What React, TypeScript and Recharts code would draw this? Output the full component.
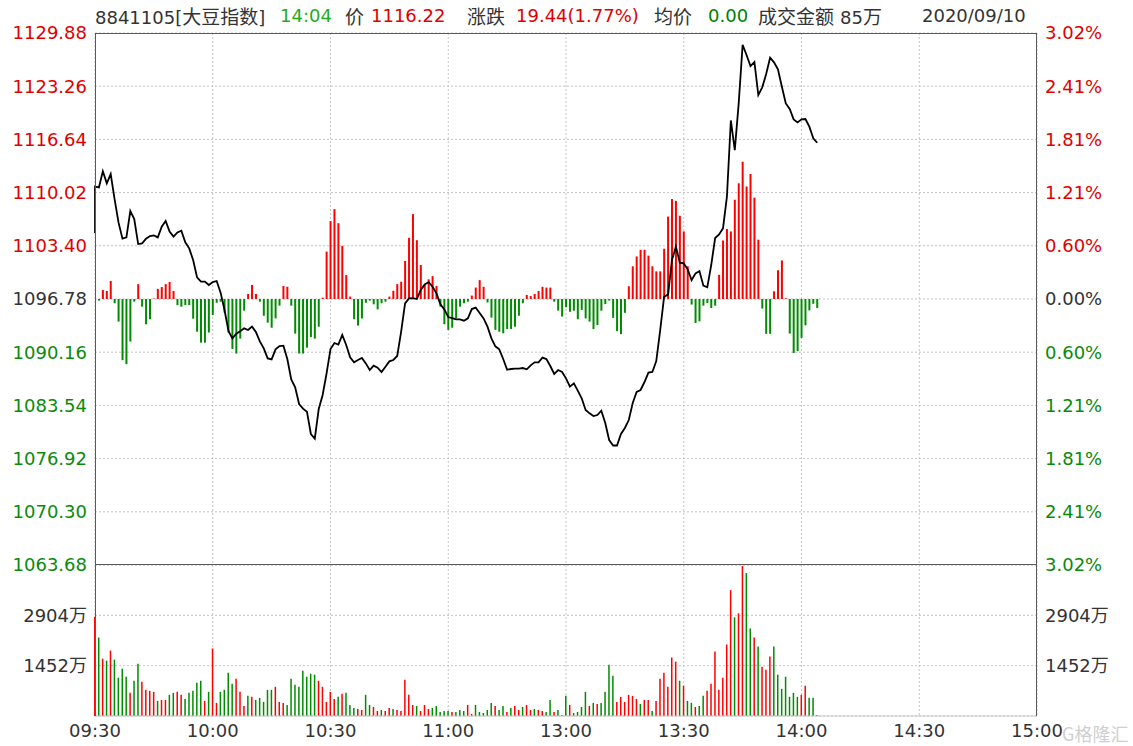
import { Bar, CartesianGrid, Cell, ComposedChart, Line, XAxis, YAxis } from "recharts";

const prevClose = 1096.78;
const openPrice = 1105.0;

const timeTicks = [0, 30, 60, 90, 120, 150, 180, 210, 240];
const timeLabels = ["09:30", "10:00", "10:30", "11:00", "13:00", "13:30", "14:00", "14:30", "15:00"];

const priceTicks = [
  1129.88, 1123.26, 1116.64, 1110.02, 1103.4, 1096.78, 1090.16, 1083.54, 1076.92, 1070.3, 1063.68,
];
const volTicks = [1452, 2904];
const volMax = 4356;

// one value per minute, from 09:30
const prices = [
  1110.76, 1110.67, 1112.67, 1111.17, 1112.33, 1109.18, 1106.28, 1104.29, 1104.45, 1107.73,
  1106.73, 1103.62, 1103.71, 1104.29, 1104.62, 1104.7, 1104.45, 1105.78, 1106.49, 1105.16,
  1104.54, 1105.07, 1105.28, 1103.83, 1103.08, 1101.63, 1099.48, 1098.94, 1098.94, 1098.52,
  1098.89, 1099.02, 1097.57, 1095.41, 1092.8, 1091.88, 1092.47, 1092.76, 1093.13, 1092.92,
  1093.34, 1092.67, 1091.51, 1090.64, 1089.39, 1089.27, 1090.52, 1090.93, 1090.97, 1089.31,
  1086.78, 1085.79, 1083.71, 1083.13, 1082.76, 1079.98, 1079.4, 1083.09, 1084.83, 1087.53,
  1090.56, 1091.3, 1091.1, 1092.3, 1091.06, 1089.52, 1088.9, 1089.19, 1089.44, 1088.77,
  1087.94, 1088.48, 1088.23, 1087.69, 1088.36, 1089.02, 1089.19, 1089.69, 1092.71, 1096.24,
  1096.86, 1096.9, 1096.78, 1097.9, 1098.6, 1098.89, 1098.31, 1097.48, 1096.11, 1095.49,
  1094.54, 1094.41, 1094.25, 1094.25, 1094.08, 1094.37, 1095.53, 1095.7, 1095.04, 1094.37,
  1093.34, 1091.88, 1090.89, 1090.52, 1089.31, 1087.98, 1088.07, 1088.11, 1088.11, 1088.19,
  1088.03, 1088.52, 1088.9, 1088.9, 1089.48, 1089.31, 1088.44, 1087.45, 1087.94, 1087.69,
  1086.91, 1085.87, 1086.28, 1085.37, 1084.42, 1082.97, 1082.55, 1082.22, 1082.34, 1082.88,
  1081.35, 1079.23, 1078.55, 1078.55, 1079.98, 1080.73, 1081.72, 1083.84, 1085.21, 1085.46,
  1086.45, 1087.63, 1087.7, 1089.06, 1092.92, 1097.07, 1097.32, 1101.63, 1103.29, 1101.3,
  1101.21, 1100.47, 1099.14, 1099.97, 1100.26, 1098.44, 1098.23, 1101.01, 1104.37, 1104.82,
  1105.57, 1109.51, 1119.0, 1115.3, 1121.12, 1128.4, 1127.14, 1125.77, 1126.27, 1122.16,
  1123.12, 1124.77, 1126.81, 1126.23, 1125.36, 1123.2, 1121.12, 1120.42, 1119.13, 1118.76,
  1119.13, 1119.17, 1118.22, 1116.77, 1116.22,
];

// red / green bars around the zero line
const flow = [
  0, -0.6, 3.4, 3.0, 6.8, -1.6, -8.5, -23, -24.5, -16,
  -1, 5.6, -2.9, -9.5, -7.6, 0.2, 3.8, 4.5, 5.6, 6.4,
  3, -2.3, -2.9, -2.3, -2.3, -7.4, -12.3, -16.4, -16.4, -12.6,
  -6, -1.4, -1, -5.1, -12.6, -18.8, -20.5, -14.9, -4.4, 1.9,
  5.3, 1.9, -1, -6.3, -8.9, -10.8, -7.3, -2.5, 4.9, 4.6,
  -2.5, -13, -20.5, -20.5, -18.3, -14.3, -14.9, -10.4, 0.5, 17.8,
  29.3, 33.8, 28.5, 20, 9, 0.9, -7.6, -10, -7.3, -1.4,
  -0.6, -2, -3.9, -1.6, -1, 0.9, 3.1, 5.6, 6.5, 14.3,
  23, 31.9, 22.1, 12.8, 5.3, 7.4, 8.6, 4.9, -2.9, -9.5,
  -11.6, -10.8, -7.3, -2.9, -1.6, -1, 1.3, 4.3, 7.1, 4.6,
  -1.3, -7, -11.6, -12.3, -12.9, -11.3, -11.3, -10.4, -6.3, -1.6,
  1.5, 1.1, 1.9, 3, 4.6, 4.3, 4.3, -1, -4.4, -6.6,
  -3.1, -4.8, -4.4, -7.6, -4.1, -7.3, -8.5, -11.3, -9.8, -4.4,
  -1.9, -0.6, -7.1, -12.1, -13.2, -5.2, 4.8, 12.3, 16, 18.5,
  18.5, 16.3, 12.3, 10.4, 10.4, 18.9, 31, 37.6, 36.9, 31.3,
  25.4, 12.3, -2.1, -9, -8.4, -2.5, -1.5, -3.4, -2.5, 9.1,
  22, 26.3, 25.4, 37.3, 43.5, 51.6, 42.3, 47, 38.1, 22.3,
  -3.6, -13.1, -13.1, 2.9, 10.8, 14.5, 0.3, -13, -20.3, -19.6,
  -14.6, -9.9, -4.3, -1.8, -3.4,
];

// turnover per minute, 万
const volumes = [
  2865, 2265, 1655, 1597, 1888, 1626, 1104, 1365, 1133, 668,
  1016, 1510, 987, 755, 726, 697, 436, 465, 465, 610,
  668, 697, 610, 494, 668, 726, 958, 1016, 436, 697,
  1946, 378, 697, 755, 1249, 929, 1074, 697, 290, 581,
  552, 465, 523, 407, 755, 755, 842, 407, 378, 319,
  1074, 900, 842, 1307, 1133, 1220, 1191, 1016, 842, 407,
  697, 494, 552, 639, 668, 319, 232, 203, 174, 610,
  319, 261, 145, 174, 145, 232, 203, 174, 145, 1045,
  610, 319, 290, 145, 319, 203, 232, 290, 116, 145,
  145, 116, 116, 174, 145, 319, 58, 319, 116, 87,
  174, 378, 290, 174, 290, 116, 232, 290, 174, 261,
  319, 174, 203, 174, 145, 116, 465, 116, 174, 29,
  581, 319, 87, 116, 261, 697, 290, 378, 348, 378,
  697, 1481, 1162, 407, 552, 407, 610, 581, 494, 348,
  465, 465, 145, 436, 1074, 1249, 842, 1684, 1568, 1016,
  871, 436, 378, 261, 290, 581, 726, 929, 1859, 755,
  1104, 2062, 3630, 2846, 2962, 4330, 4124, 2526, 2265, 2004,
  1423, 1336, 1713, 2004, 1191, 784, 1133, 552, 668, 552,
  610, 871, 523, 523, 29,
];

// 1 = up minute, 0 = down minute
const volUp = [
  1, 0, 1, 0, 1, 0, 0, 0, 0, 1,
  0, 0, 1, 1, 1, 1, 0, 1, 1, 0,
  0, 1, 1, 0, 0, 0, 0, 0, 1, 0,
  1, 1, 0, 0, 0, 0, 1, 1, 1, 0,
  1, 0, 0, 0, 0, 0, 1, 1, 1, 0,
  0, 0, 0, 0, 0, 0, 0, 1, 1, 1,
  1, 1, 0, 1, 0, 0, 0, 1, 1, 0,
  0, 1, 1, 0, 1, 1, 0, 1, 1, 1,
  1, 1, 0, 1, 1, 1, 0, 0, 0, 0,
  0, 1, 0, 0, 0, 1, 1, 0, 0, 0,
  0, 0, 1, 0, 0, 1, 0, 1, 1, 0,
  1, 1, 0, 1, 1, 0, 0, 1, 0, 0,
  0, 1, 0, 0, 0, 0, 1, 0, 1, 0,
  0, 0, 0, 1, 1, 1, 1, 1, 1, 0,
  1, 1, 0, 1, 1, 1, 1, 1, 1, 0,
  1, 0, 0, 1, 0, 0, 1, 1, 1, 1,
  1, 1, 1, 0, 1, 1, 0, 0, 1, 0,
  1, 1, 1, 0, 0, 0, 0, 0, 0, 0,
  1, 1, 0, 0, 0,
];

const RED = "#ff0000";
const GREEN = "#008c00";
const RED_TXT = "#e00000";
const GREEN_TXT = "#0a8a0a";
const DARK = "#333333";
const FONT = "'DejaVu Sans', 'Noto Sans CJK SC', sans-serif";
const CJK = "'Noto Sans CJK SC', sans-serif";

const W = 1133;
const LEFT = 95;
const RIGHT = 96;

const priceRows = [
  { t: 0, price: openPrice },
  ...prices.map((p, i) => ({ t: i, price: p, flow: flow[i] })),
];
const volRows = volumes.map((v, i) => ({ t: i, vol: v, up: volUp[i] }));

const priceColor = (v: number) =>
  v > prevClose + 0.001 ? RED_TXT : v < prevClose - 0.001 ? GREEN_TXT : DARK;

const PriceTick = (props: any) => {
  const { x, y, payload, textAnchor, pct } = props;
  const v = payload.value;
  const label = pct
    ? ((Math.abs(v - prevClose) / prevClose) * 100).toFixed(2) + "%"
    : v.toFixed(2);
  return (
    <text x={x} y={y} dy="0.36em" textAnchor={textAnchor} fill={priceColor(v)} fontSize={18} fontFamily={FONT}>
      {label}
    </text>
  );
};

const gridStyle = { stroke: "#c4c4c4", strokeDasharray: "2 2" };
const volTick = { fill: DARK, fontSize: 18, fontFamily: FONT };

const App = () => {
  return (
    <div style={{ position: "absolute", left: 0, top: 0, width: W, height: 746, background: "#fff", overflow: "hidden", fontFamily: FONT }}>
      {/* header */}
      <div style={{ position: "absolute", left: 0, top: 4, height: 24, fontSize: 18, whiteSpace: "nowrap", lineHeight: "24px" }}>
        <span style={{ position: "absolute", left: 95, color: DARK }}>8841105[<span style={{ fontFamily: CJK, fontSize: 19 }}>大豆指数</span>]</span>
        <span style={{ position: "absolute", left: 280, color: "#1faa1f" }}>14:04</span>
        <span style={{ position: "absolute", left: 345, color: DARK, fontFamily: CJK, fontSize: 19 }}>价</span>
        <span style={{ position: "absolute", left: 371, color: RED_TXT }}>1116.22</span>
        <span style={{ position: "absolute", left: 467, color: DARK, fontFamily: CJK, fontSize: 19 }}>涨跌</span>
        <span style={{ position: "absolute", left: 516, color: RED_TXT }}>19.44(1.77%)</span>
        <span style={{ position: "absolute", left: 654, color: DARK, fontFamily: CJK, fontSize: 19 }}>均价</span>
        <span style={{ position: "absolute", left: 708, color: "#008000" }}>0.00</span>
        <span style={{ position: "absolute", left: 758, color: DARK, fontFamily: CJK, fontSize: 19 }}>成交金额</span>
        <span style={{ position: "absolute", left: 840, color: DARK }}>85<span style={{ fontFamily: CJK, fontSize: 19 }}>万</span></span>
        <span style={{ position: "absolute", left: 922, color: DARK }}>2020/09/10</span>
      </div>

      {/* price panel */}
      <div style={{ position: "absolute", left: 0, top: 0 }}>
        <ComposedChart width={W} height={600} data={priceRows} margin={{ top: 33, right: 0, bottom: 35, left: 0 }}>
          <CartesianGrid yAxisId="price" {...gridStyle} />
          <XAxis dataKey="t" type="number" domain={[0, 240]} ticks={timeTicks} hide />
          <YAxis
            yAxisId="price"
            orientation="left"
            width={LEFT}
            domain={[priceTicks[priceTicks.length - 1], priceTicks[0]]}
            ticks={priceTicks}
            interval={0}
            axisLine={false}
            tickLine={false}
            tick={(p: any) => <PriceTick {...p} pct={false} />}
          />
          <YAxis
            yAxisId="pct"
            orientation="right"
            width={RIGHT}
            domain={[priceTicks[priceTicks.length - 1], priceTicks[0]]}
            ticks={priceTicks}
            interval={0}
            axisLine={false}
            tickLine={false}
            tick={(p: any) => <PriceTick {...p} pct={true} />}
          />
          <YAxis yAxisId="flow" orientation="left" width={0} domain={[-100, 100]} hide />
          <Bar yAxisId="flow" dataKey="flow" barSize={2} isAnimationActive={false}>
            {priceRows.map((r, i) => (
              <Cell key={i} fill={(r.flow ?? 0) >= 0 ? RED : GREEN} />
            ))}
          </Bar>
          {/* carries the percent axis; not drawn */}
          <Line
            yAxisId="pct"
            dataKey="price"
            stroke="none"
            dot={false}
            activeDot={false}
            isAnimationActive={false}
          />
          <Line
            yAxisId="price"
            dataKey="price"
            type="linear"
            stroke="#000"
            strokeWidth={1.8}
            dot={false}
            activeDot={false}
            isAnimationActive={false}
          />
        </ComposedChart>
      </div>

      {/* volume panel */}
      <div style={{ position: "absolute", left: 0, top: 565 }}>
        <ComposedChart width={W} height={181} data={volRows} margin={{ top: 0, right: 0, bottom: 0, left: 0 }}>
          <CartesianGrid yAxisId="vl" {...gridStyle} />
          <XAxis
            dataKey="t"
            type="number"
            domain={[0, 240]}
            ticks={timeTicks}
            interval={0}
            height={30}
            tickLine={false}
            axisLine={{ stroke: "#c8c8c8" }}
            tick={volTick}
            tickFormatter={(v: number) => timeLabels[timeTicks.indexOf(v)]}
          />
          <YAxis
            yAxisId="vl"
            orientation="left"
            width={LEFT}
            domain={[0, volMax]}
            ticks={volTicks}
            interval={0}
            axisLine={false}
            tickLine={false}
            tick={volTick}
            tickFormatter={(v: number) => `${v}万`}
          />
          <YAxis
            yAxisId="vr"
            orientation="right"
            width={RIGHT}
            domain={[0, volMax]}
            ticks={volTicks}
            interval={0}
            axisLine={false}
            tickLine={false}
            tick={volTick}
            tickFormatter={(v: number) => `${v}万`}
          />
          <Bar yAxisId="vl" dataKey="vol" barSize={1.5} isAnimationActive={false}>
            {volRows.map((r, i) => (
              <Cell key={i} fill={r.up ? RED : GREEN} />
            ))}
          </Bar>
          {/* carries the right volume axis; not drawn */}
          <Line
            yAxisId="vr"
            dataKey="vol"
            stroke="none"
            dot={false}
            activeDot={false}
            isAnimationActive={false}
          />
        </ComposedChart>
      </div>

      {/* panel frames */}
      <div style={{ position: "absolute", left: LEFT, top: 33, width: W - LEFT - RIGHT, height: 532, border: "1px solid #5a5a5a", boxSizing: "border-box", pointerEvents: "none" }} />
      <div style={{ position: "absolute", left: LEFT, top: 565, width: W - LEFT - RIGHT, height: 151, borderLeft: "1px solid #5a5a5a", borderRight: "1px solid #5a5a5a", boxSizing: "border-box", pointerEvents: "none" }} />

      {/* watermark */}
      <div style={{ position: "absolute", left: 1062, top: 720, fontSize: 18, color: "#cfcfcf", fontFamily: CJK, whiteSpace: "nowrap" }}>
        G格隆汇
      </div>
    </div>
  );
};

export default App;
